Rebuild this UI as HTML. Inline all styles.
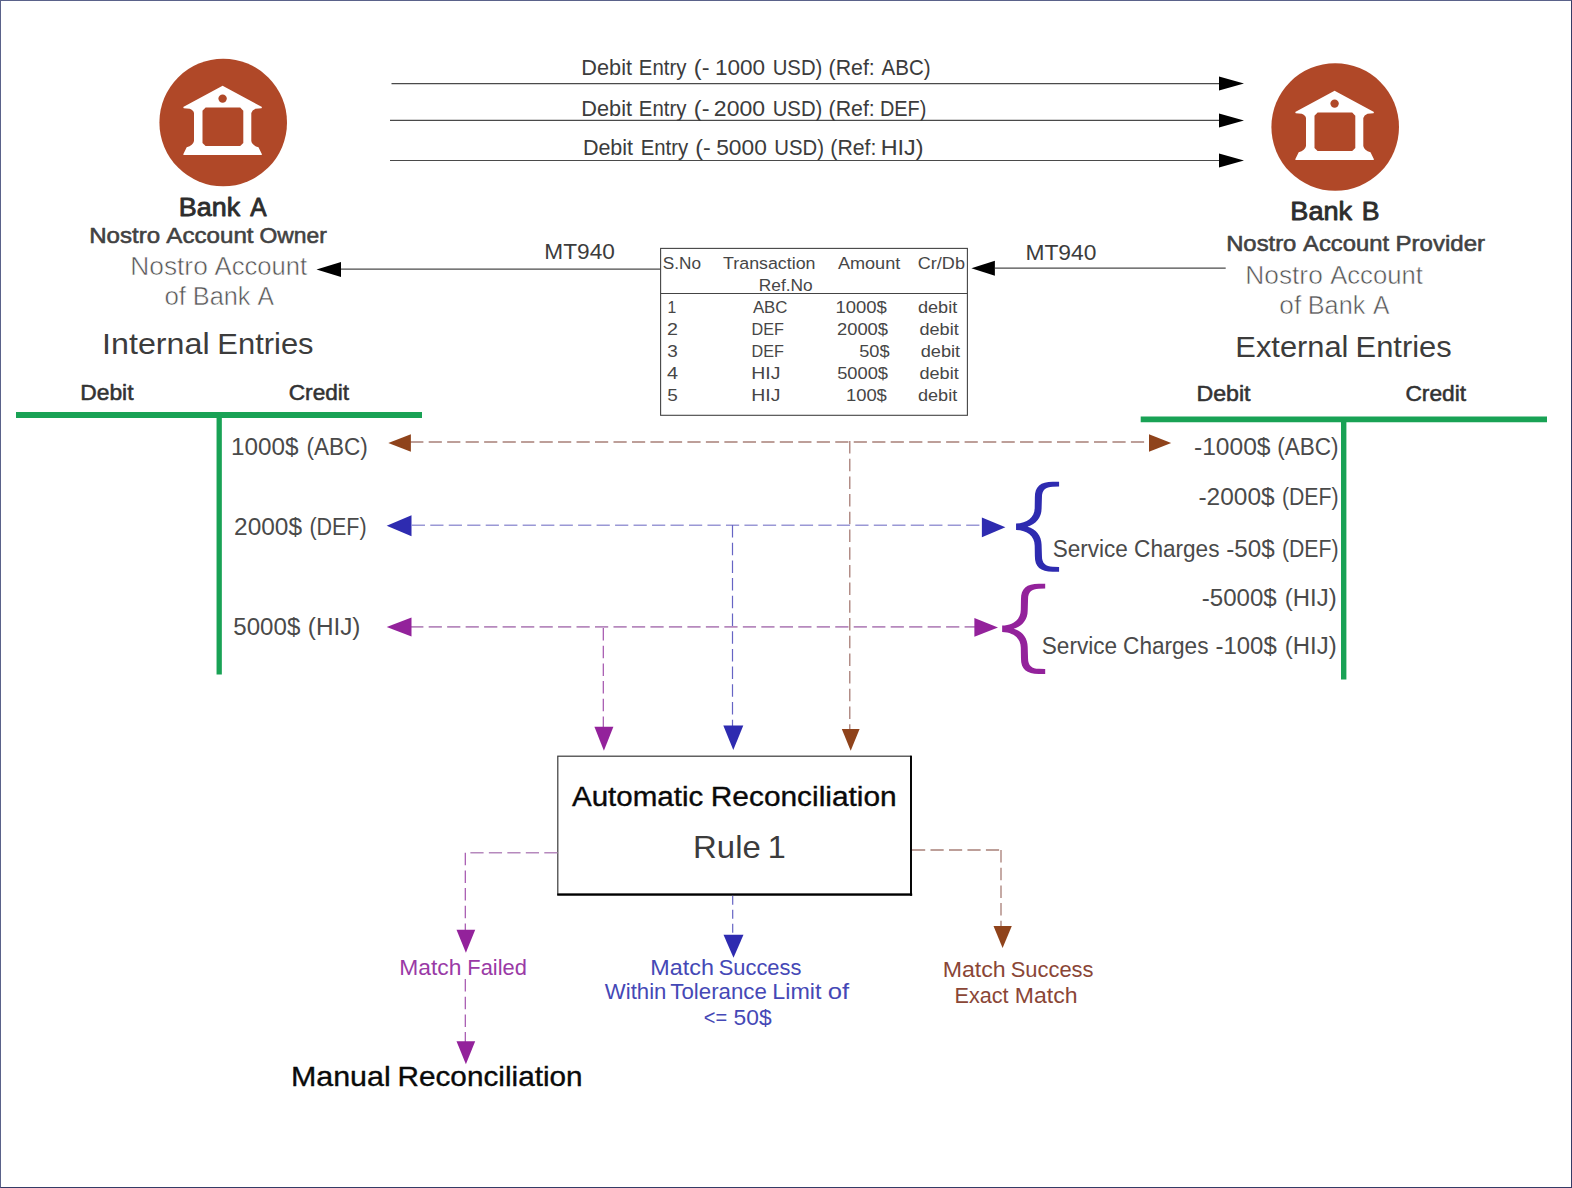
<!DOCTYPE html>
<html lang="en"><head><meta charset="utf-8"><title>Nostro Reconciliation</title>
<style>
html,body{margin:0;padding:0;background:#fff;}
body{width:1572px;height:1188px;overflow:hidden;position:relative;font-family:"Liberation Sans",sans-serif;}
svg{position:absolute;left:0;top:0;display:block;}
svg text{font-family:"Liberation Sans",sans-serif;}
.frame{position:absolute;left:0;top:0;width:1570px;height:1186px;border-top:1px solid #5a628a;border-left:1px solid #5a628a;border-right:1px solid #353c66;border-bottom:1px solid #353c66;pointer-events:none;}
</style></head><body>
<svg width="1572" height="1188" viewBox="0 0 1572 1188">
<circle cx="223.2" cy="122.5" r="63.8" fill="#b04828"/>
<g transform="translate(0.0,0.0)" fill="#fff"><path d="M222.6 85.8 L262 107 L261.5 108.3 L255.5 108.8 Q252 110 251.3 113 L251.3 141 Q252.1 145.5 258.5 147.3 L261.8 154 L261.8 155 L183.4 155 L183.4 154 L186.7 147.3 Q193.1 145.5 194 141 L194 113 Q193.3 110 189.7 108.8 L183.7 108.3 L183.2 107 Z"/><path d="M205.6 107.6 L240.2 107.6 L243.3 110.7 L243.3 142.9 L240.2 146 L205.6 146 L202.5 142.9 L202.5 110.7 Z" fill="#b04828"/><circle cx="222.6" cy="98.6" r="4.2" fill="#b04828"/></g>
<circle cx="1335.2" cy="127.0" r="63.8" fill="#b04828"/>
<g transform="translate(1112.0,5.0)" fill="#fff"><path d="M222.6 85.8 L262 107 L261.5 108.3 L255.5 108.8 Q252 110 251.3 113 L251.3 141 Q252.1 145.5 258.5 147.3 L261.8 154 L261.8 155 L183.4 155 L183.4 154 L186.7 147.3 Q193.1 145.5 194 141 L194 113 Q193.3 110 189.7 108.8 L183.7 108.3 L183.2 107 Z"/><path d="M205.6 107.6 L240.2 107.6 L243.3 110.7 L243.3 142.9 L240.2 146 L205.6 146 L202.5 142.9 L202.5 110.7 Z" fill="#b04828"/><circle cx="222.6" cy="98.6" r="4.2" fill="#b04828"/></g>
<line x1="391.5" y1="83.6" x2="1222" y2="83.6" stroke="#4a4a4a" stroke-width="1.1"/>
<line x1="390" y1="120.4" x2="1222" y2="120.4" stroke="#4a4a4a" stroke-width="1.1"/>
<line x1="390" y1="160.5" x2="1222" y2="160.5" stroke="#4a4a4a" stroke-width="1.1"/>
<polygon points="1244.0,83.6 1219.0,76.6 1219.0,90.6" fill="#000"/>
<polygon points="1244.0,120.4 1219.0,113.4 1219.0,127.4" fill="#000"/>
<polygon points="1244.0,160.5 1219.0,153.5 1219.0,167.5" fill="#000"/>
<g>
<text x="581.36" y="75.3" font-size="22.2" fill="#3c3c3c" font-weight="400" textLength="50.63" lengthAdjust="spacingAndGlyphs">Debit</text>
<text x="638.87" y="75.3" font-size="22.2" fill="#3c3c3c" font-weight="400" textLength="47.51" lengthAdjust="spacingAndGlyphs">Entry</text>
<text x="693.89" y="75.3" font-size="22.2" fill="#3c3c3c" font-weight="400" textLength="15.63" lengthAdjust="spacingAndGlyphs">(-</text>
<text x="714.91" y="75.3" font-size="22.2" fill="#3c3c3c" font-weight="400" textLength="50.19" lengthAdjust="spacingAndGlyphs">1000</text>
<text x="772.68" y="75.3" font-size="22.2" fill="#3c3c3c" font-weight="400" textLength="49.63" lengthAdjust="spacingAndGlyphs">USD)</text>
<text x="828.62" y="75.3" font-size="22.2" fill="#3c3c3c" font-weight="400" textLength="46.19" lengthAdjust="spacingAndGlyphs">(Ref:</text>
<text x="881.50" y="75.3" font-size="22.2" fill="#3c3c3c" font-weight="400" textLength="49.07" lengthAdjust="spacingAndGlyphs">ABC)</text>
</g>
<g>
<text x="581.36" y="116.3" font-size="22.2" fill="#3c3c3c" font-weight="400" textLength="50.63" lengthAdjust="spacingAndGlyphs">Debit</text>
<text x="638.87" y="116.3" font-size="22.2" fill="#3c3c3c" font-weight="400" textLength="47.51" lengthAdjust="spacingAndGlyphs">Entry</text>
<text x="693.89" y="116.3" font-size="22.2" fill="#3c3c3c" font-weight="400" textLength="15.63" lengthAdjust="spacingAndGlyphs">(-</text>
<text x="713.85" y="116.3" font-size="22.2" fill="#3c3c3c" font-weight="400" textLength="51.27" lengthAdjust="spacingAndGlyphs">2000</text>
<text x="772.68" y="116.3" font-size="22.2" fill="#3c3c3c" font-weight="400" textLength="49.63" lengthAdjust="spacingAndGlyphs">USD)</text>
<text x="828.62" y="116.3" font-size="22.2" fill="#3c3c3c" font-weight="400" textLength="46.19" lengthAdjust="spacingAndGlyphs">(Ref:</text>
<text x="879.91" y="116.3" font-size="22.2" fill="#3c3c3c" font-weight="400" textLength="46.39" lengthAdjust="spacingAndGlyphs">DEF)</text>
</g>
<g>
<text x="582.88" y="154.7" font-size="22.2" fill="#3c3c3c" font-weight="400" textLength="50.22" lengthAdjust="spacingAndGlyphs">Debit</text>
<text x="640.68" y="154.7" font-size="22.2" fill="#3c3c3c" font-weight="400" textLength="47.40" lengthAdjust="spacingAndGlyphs">Entry</text>
<text x="695.31" y="154.7" font-size="22.2" fill="#3c3c3c" font-weight="400" textLength="15.39" lengthAdjust="spacingAndGlyphs">(-</text>
<text x="716.19" y="154.7" font-size="22.2" fill="#3c3c3c" font-weight="400" textLength="50.61" lengthAdjust="spacingAndGlyphs">5000</text>
<text x="774.28" y="154.7" font-size="22.2" fill="#3c3c3c" font-weight="400" textLength="49.63" lengthAdjust="spacingAndGlyphs">USD)</text>
<text x="830.32" y="154.7" font-size="22.2" fill="#3c3c3c" font-weight="400" textLength="46.08" lengthAdjust="spacingAndGlyphs">(Ref:</text>
<text x="880.73" y="154.7" font-size="22.2" fill="#3c3c3c" font-weight="400" textLength="42.78" lengthAdjust="spacingAndGlyphs">HIJ)</text>
</g>
<g>
<text x="178.87" y="215.6" font-size="26" fill="#2d2d2d" font-weight="400" textLength="61.32" lengthAdjust="spacingAndGlyphs" stroke="#2d2d2d" stroke-width="0.85" stroke-linejoin="round">Bank</text>
<text x="250.23" y="215.6" font-size="26" fill="#2d2d2d" font-weight="400" textLength="16.30" lengthAdjust="spacingAndGlyphs" stroke="#2d2d2d" stroke-width="0.85" stroke-linejoin="round">A</text>
</g>
<g>
<text x="89.15" y="242.6" font-size="21.2" fill="#424242" font-weight="400" textLength="70.95" lengthAdjust="spacingAndGlyphs" stroke="#424242" stroke-width="0.55" stroke-linejoin="round">Nostro</text>
<text x="166.28" y="242.6" font-size="21.2" fill="#424242" font-weight="400" textLength="87.29" lengthAdjust="spacingAndGlyphs" stroke="#424242" stroke-width="0.55" stroke-linejoin="round">Account</text>
<text x="259.55" y="242.6" font-size="21.2" fill="#424242" font-weight="400" textLength="67.33" lengthAdjust="spacingAndGlyphs" stroke="#424242" stroke-width="0.55" stroke-linejoin="round">Owner</text>
</g>
<g>
<text x="130.30" y="274.5" font-size="26.5" fill="#555" font-weight="400" textLength="77.47" lengthAdjust="spacingAndGlyphs" stroke="#fff" stroke-width="0.55">Nostro</text>
<text x="214.60" y="274.5" font-size="26.5" fill="#555" font-weight="400" textLength="92.65" lengthAdjust="spacingAndGlyphs" stroke="#fff" stroke-width="0.55">Account</text>
</g>
<g>
<text x="164.46" y="305.0" font-size="26.5" fill="#555" font-weight="400" textLength="21.61" lengthAdjust="spacingAndGlyphs" stroke="#fff" stroke-width="0.55">of</text>
<text x="192.77" y="305.0" font-size="26.5" fill="#555" font-weight="400" textLength="57.75" lengthAdjust="spacingAndGlyphs" stroke="#fff" stroke-width="0.55">Bank</text>
<text x="257.60" y="305.0" font-size="26.5" fill="#555" font-weight="400" textLength="16.45" lengthAdjust="spacingAndGlyphs" stroke="#fff" stroke-width="0.55">A</text>
</g>
<g>
<text x="102.10" y="354.3" font-size="29.5" fill="#3c3c3c" font-weight="400" textLength="107.51" lengthAdjust="spacingAndGlyphs">Internal</text>
<text x="217.33" y="354.3" font-size="29.5" fill="#3c3c3c" font-weight="400" textLength="96.25" lengthAdjust="spacingAndGlyphs">Entries</text>
</g>
<text x="80.25" y="399.5" font-size="22.8" fill="#333" font-weight="400" textLength="53.28" lengthAdjust="spacingAndGlyphs" stroke="#333" stroke-width="0.55" stroke-linejoin="round">Debit</text>
<text x="288.74" y="399.5" font-size="22.8" fill="#333" font-weight="400" textLength="60.40" lengthAdjust="spacingAndGlyphs" stroke="#333" stroke-width="0.55" stroke-linejoin="round">Credit</text>
<g>
<text x="1290.35" y="220.0" font-size="26" fill="#2d2d2d" font-weight="400" textLength="61.83" lengthAdjust="spacingAndGlyphs" stroke="#2d2d2d" stroke-width="0.85" stroke-linejoin="round">Bank</text>
<text x="1361.69" y="220.0" font-size="26" fill="#2d2d2d" font-weight="400" textLength="17.77" lengthAdjust="spacingAndGlyphs" stroke="#2d2d2d" stroke-width="0.85" stroke-linejoin="round">B</text>
</g>
<g>
<text x="1226.17" y="250.5" font-size="21.2" fill="#424242" font-weight="400" textLength="70.22" lengthAdjust="spacingAndGlyphs" stroke="#424242" stroke-width="0.55" stroke-linejoin="round">Nostro</text>
<text x="1303.08" y="250.5" font-size="21.2" fill="#424242" font-weight="400" textLength="85.99" lengthAdjust="spacingAndGlyphs" stroke="#424242" stroke-width="0.55" stroke-linejoin="round">Account</text>
<text x="1395.55" y="250.5" font-size="21.2" fill="#424242" font-weight="400" textLength="89.46" lengthAdjust="spacingAndGlyphs" stroke="#424242" stroke-width="0.55" stroke-linejoin="round">Provider</text>
</g>
<g>
<text x="1245.30" y="284.0" font-size="26.5" fill="#555" font-weight="400" textLength="77.47" lengthAdjust="spacingAndGlyphs" stroke="#fff" stroke-width="0.55">Nostro</text>
<text x="1330.20" y="284.0" font-size="26.5" fill="#555" font-weight="400" textLength="92.65" lengthAdjust="spacingAndGlyphs" stroke="#fff" stroke-width="0.55">Account</text>
</g>
<g>
<text x="1279.35" y="314.3" font-size="26.5" fill="#555" font-weight="400" textLength="21.82" lengthAdjust="spacingAndGlyphs" stroke="#fff" stroke-width="0.55">of</text>
<text x="1307.78" y="314.3" font-size="26.5" fill="#555" font-weight="400" textLength="57.54" lengthAdjust="spacingAndGlyphs" stroke="#fff" stroke-width="0.55">Bank</text>
<text x="1373.00" y="314.3" font-size="26.5" fill="#555" font-weight="400" textLength="16.45" lengthAdjust="spacingAndGlyphs" stroke="#fff" stroke-width="0.55">A</text>
</g>
<g>
<text x="1235.33" y="357.3" font-size="29.5" fill="#3c3c3c" font-weight="400" textLength="113.13" lengthAdjust="spacingAndGlyphs">External</text>
<text x="1355.53" y="357.3" font-size="29.5" fill="#3c3c3c" font-weight="400" textLength="96.25" lengthAdjust="spacingAndGlyphs">Entries</text>
</g>
<text x="1196.42" y="401.1" font-size="22.8" fill="#333" font-weight="400" textLength="54.11" lengthAdjust="spacingAndGlyphs" stroke="#333" stroke-width="0.55" stroke-linejoin="round">Debit</text>
<text x="1405.44" y="401.1" font-size="22.8" fill="#333" font-weight="400" textLength="60.70" lengthAdjust="spacingAndGlyphs" stroke="#333" stroke-width="0.55" stroke-linejoin="round">Credit</text>
<line x1="16" y1="415" x2="422" y2="415" stroke="#19a255" stroke-width="5.8"/>
<line x1="219.2" y1="415" x2="219.2" y2="674.5" stroke="#19a255" stroke-width="5.3"/>
<line x1="1140.7" y1="419.3" x2="1547" y2="419.3" stroke="#19a255" stroke-width="5.8"/>
<line x1="1343.7" y1="419.3" x2="1343.7" y2="679.5" stroke="#19a255" stroke-width="5.4"/>
<g>
<text x="230.98" y="454.7" font-size="23" fill="#4a4a4a" font-weight="400" textLength="67.44" lengthAdjust="spacingAndGlyphs">1000$</text>
<text x="306.45" y="454.7" font-size="23" fill="#4a4a4a" font-weight="400" textLength="61.40" lengthAdjust="spacingAndGlyphs">(ABC)</text>
</g>
<g>
<text x="234.08" y="534.7" font-size="23" fill="#4a4a4a" font-weight="400" textLength="67.95" lengthAdjust="spacingAndGlyphs">2000$</text>
<text x="309.41" y="534.7" font-size="23" fill="#4a4a4a" font-weight="400" textLength="57.20" lengthAdjust="spacingAndGlyphs">(DEF)</text>
</g>
<g>
<text x="233.34" y="634.7" font-size="23" fill="#4a4a4a" font-weight="400" textLength="66.99" lengthAdjust="spacingAndGlyphs">5000$</text>
<text x="307.84" y="634.7" font-size="23" fill="#4a4a4a" font-weight="400" textLength="52.64" lengthAdjust="spacingAndGlyphs">(HIJ)</text>
</g>
<g>
<text x="1193.95" y="455.4" font-size="23" fill="#4a4a4a" font-weight="400" textLength="76.59" lengthAdjust="spacingAndGlyphs">-1000$</text>
<text x="1277.15" y="455.4" font-size="23" fill="#4a4a4a" font-weight="400" textLength="61.40" lengthAdjust="spacingAndGlyphs">(ABC)</text>
</g>
<g>
<text x="1198.46" y="504.6" font-size="23" fill="#4a4a4a" font-weight="400" textLength="76.18" lengthAdjust="spacingAndGlyphs">-2000$</text>
<text x="1281.93" y="504.6" font-size="23" fill="#4a4a4a" font-weight="400" textLength="56.57" lengthAdjust="spacingAndGlyphs">(DEF)</text>
</g>
<g>
<text x="1052.68" y="557.0" font-size="23" fill="#4a4a4a" font-weight="400" textLength="75.22" lengthAdjust="spacingAndGlyphs">Service</text>
<text x="1134.07" y="557.0" font-size="23" fill="#4a4a4a" font-weight="400" textLength="85.42" lengthAdjust="spacingAndGlyphs">Charges</text>
<text x="1226.27" y="557.0" font-size="23" fill="#4a4a4a" font-weight="400" textLength="48.37" lengthAdjust="spacingAndGlyphs">-50$</text>
<text x="1281.93" y="557.0" font-size="23" fill="#4a4a4a" font-weight="400" textLength="56.57" lengthAdjust="spacingAndGlyphs">(DEF)</text>
</g>
<g>
<text x="1201.78" y="605.9" font-size="23" fill="#4a4a4a" font-weight="400" textLength="74.96" lengthAdjust="spacingAndGlyphs">-5000$</text>
<text x="1284.87" y="605.9" font-size="23" fill="#4a4a4a" font-weight="400" textLength="51.79" lengthAdjust="spacingAndGlyphs">(HIJ)</text>
</g>
<g>
<text x="1041.78" y="653.5" font-size="23" fill="#4a4a4a" font-weight="400" textLength="75.43" lengthAdjust="spacingAndGlyphs">Service</text>
<text x="1123.07" y="653.5" font-size="23" fill="#4a4a4a" font-weight="400" textLength="85.42" lengthAdjust="spacingAndGlyphs">Charges</text>
<text x="1215.58" y="653.5" font-size="23" fill="#4a4a4a" font-weight="400" textLength="61.12" lengthAdjust="spacingAndGlyphs">-100$</text>
<text x="1284.87" y="653.5" font-size="23" fill="#4a4a4a" font-weight="400" textLength="51.79" lengthAdjust="spacingAndGlyphs">(HIJ)</text>
</g>
<line x1="340" y1="269.1" x2="660.7" y2="269.1" stroke="#4a4a4a" stroke-width="1.1"/>
<polygon points="316.5,269.5 341.0,262.0 341.0,277.0" fill="#000"/>
<line x1="995" y1="268.1" x2="1225.7" y2="268.1" stroke="#4a4a4a" stroke-width="1.1"/>
<polygon points="971.4,268.2 994.9,260.7 994.9,275.7" fill="#000"/>
<text x="544.39" y="259.2" font-size="22" fill="#3c3c3c" font-weight="400" textLength="70.52" lengthAdjust="spacingAndGlyphs">MT940</text>
<text x="1025.48" y="260.4" font-size="22" fill="#3c3c3c" font-weight="400" textLength="70.93" lengthAdjust="spacingAndGlyphs">MT940</text>
<rect x="660.6" y="248.4" width="306.8" height="166.9" fill="#fff" stroke="#444" stroke-width="1.1"/>
<line x1="660.6" y1="293.5" x2="967.4" y2="293.5" stroke="#444" stroke-width="1.1"/>
<text x="662.83" y="269.0" font-size="17.1" fill="#464646" font-weight="400" textLength="38.28" lengthAdjust="spacingAndGlyphs">S.No</text>
<text x="723.14" y="269.0" font-size="17.1" fill="#464646" font-weight="400" textLength="92.37" lengthAdjust="spacingAndGlyphs">Transaction</text>
<text x="837.90" y="269.0" font-size="17.1" fill="#464646" font-weight="400" textLength="62.42" lengthAdjust="spacingAndGlyphs">Amount</text>
<text x="917.80" y="269.0" font-size="17.1" fill="#464646" font-weight="400" textLength="47.15" lengthAdjust="spacingAndGlyphs">Cr/Db</text>
<text x="758.82" y="290.9" font-size="17.1" fill="#464646" font-weight="400" textLength="53.88" lengthAdjust="spacingAndGlyphs">Ref.No</text>
<text x="667.62" y="313.0" font-size="16.6" fill="#464646" font-weight="400" textLength="8.74" lengthAdjust="spacingAndGlyphs">1</text>
<text x="752.90" y="313.0" font-size="16.6" fill="#464646" font-weight="400" textLength="34.61" lengthAdjust="spacingAndGlyphs">ABC</text>
<text x="835.41" y="313.0" font-size="16.6" fill="#464646" font-weight="400" textLength="51.43" lengthAdjust="spacingAndGlyphs">1000$</text>
<text x="917.98" y="313.0" font-size="16.6" fill="#464646" font-weight="400" textLength="39.23" lengthAdjust="spacingAndGlyphs">debit</text>
<text x="667.02" y="335.1" font-size="16.6" fill="#464646" font-weight="400" textLength="10.94" lengthAdjust="spacingAndGlyphs">2</text>
<text x="751.61" y="335.1" font-size="16.6" fill="#464646" font-weight="400" textLength="32.30" lengthAdjust="spacingAndGlyphs">DEF</text>
<text x="836.98" y="335.1" font-size="16.6" fill="#464646" font-weight="400" textLength="51.06" lengthAdjust="spacingAndGlyphs">2000$</text>
<text x="919.48" y="335.1" font-size="16.6" fill="#464646" font-weight="400" textLength="39.23" lengthAdjust="spacingAndGlyphs">debit</text>
<text x="667.29" y="357.0" font-size="16.6" fill="#464646" font-weight="400" textLength="10.54" lengthAdjust="spacingAndGlyphs">3</text>
<text x="751.61" y="357.0" font-size="16.6" fill="#464646" font-weight="400" textLength="32.30" lengthAdjust="spacingAndGlyphs">DEF</text>
<text x="859.17" y="357.0" font-size="16.6" fill="#464646" font-weight="400" textLength="30.37" lengthAdjust="spacingAndGlyphs">50$</text>
<text x="920.67" y="357.0" font-size="16.6" fill="#464646" font-weight="400" textLength="39.44" lengthAdjust="spacingAndGlyphs">debit</text>
<text x="667.05" y="379.0" font-size="16.6" fill="#464646" font-weight="400" textLength="11.01" lengthAdjust="spacingAndGlyphs">4</text>
<text x="751.34" y="379.0" font-size="16.6" fill="#464646" font-weight="400" textLength="29.17" lengthAdjust="spacingAndGlyphs">HIJ</text>
<text x="837.17" y="379.0" font-size="16.6" fill="#464646" font-weight="400" textLength="50.88" lengthAdjust="spacingAndGlyphs">5000$</text>
<text x="919.48" y="379.0" font-size="16.6" fill="#464646" font-weight="400" textLength="39.23" lengthAdjust="spacingAndGlyphs">debit</text>
<text x="667.24" y="401.1" font-size="16.6" fill="#464646" font-weight="400" textLength="10.54" lengthAdjust="spacingAndGlyphs">5</text>
<text x="751.34" y="401.1" font-size="16.6" fill="#464646" font-weight="400" textLength="29.17" lengthAdjust="spacingAndGlyphs">HIJ</text>
<text x="845.92" y="401.1" font-size="16.6" fill="#464646" font-weight="400" textLength="40.95" lengthAdjust="spacingAndGlyphs">100$</text>
<text x="917.98" y="401.1" font-size="16.6" fill="#464646" font-weight="400" textLength="39.23" lengthAdjust="spacingAndGlyphs">debit</text>
<line x1="410.2" y1="442" x2="1149" y2="442" stroke="#a88078" stroke-width="1.6" stroke-dasharray="13.2 5.28"/>
<polygon points="388.3,443.0 410.9,434.2 410.9,451.8" fill="#8f431b"/>
<polygon points="1171.2,443.0 1149.0,434.2 1149.0,451.8" fill="#8f431b"/>
<line x1="849.8" y1="441" x2="849.8" y2="730" stroke="#a0726a" stroke-width="1.2" stroke-dasharray="12.5 5.2"/>
<polygon points="850.7,750.8 841.8,729.0 859.6,729.0" fill="#8f431b"/>
<line x1="411.8" y1="525.3" x2="982" y2="525.3" stroke="#9a98d5" stroke-width="1.6" stroke-dasharray="13.2 5.28"/>
<polygon points="386.7,525.7 411.5,515.2 411.5,536.2" fill="#2e2bb0"/>
<polygon points="1005.4,527.3 981.9,517.4 981.9,537.2" fill="#2e2bb0"/>
<line x1="732.5" y1="525" x2="732.5" y2="726" stroke="#6664c4" stroke-width="1.2" stroke-dasharray="12.5 5.2"/>
<polygon points="733.3,749.9 723.3,725.4 743.3,725.4" fill="#2e2bb0"/>
<line x1="410.2" y1="626.9" x2="975" y2="626.9" stroke="#b689bd" stroke-width="1.6" stroke-dasharray="13.2 5.28"/>
<polygon points="386.7,627.1 411.5,617.6 411.5,636.6" fill="#93229b"/>
<polygon points="998.0,627.4 974.4,618.1 974.4,636.7" fill="#93229b"/>
<line x1="603.3" y1="628" x2="603.3" y2="727" stroke="#a252ac" stroke-width="1.2" stroke-dasharray="12.5 5.2"/>
<polygon points="603.9,750.8 594.4,726.8 613.4,726.8" fill="#93229b"/>
<path d="M1059.09 481.63 L1052.73 481.63 C1040.35 481.63 1034.87 486.49 1034.87 497.10 L1034.70 507.70 C1034.70 517.43 1027.10 523.26 1016.05 523.52 L1016.05 529.89 C1027.10 530.15 1034.70 535.99 1034.70 545.71 L1034.87 556.32 C1034.87 566.92 1040.35 571.78 1052.73 571.78 L1059.09 571.78 L1059.09 566.92 L1052.73 566.74 C1045.83 566.74 1041.95 563.39 1041.95 556.32 L1041.59 544.82 C1041.59 535.99 1035.94 528.92 1027.54 526.71 C1035.94 524.50 1041.59 517.43 1041.59 508.59 L1041.95 497.10 C1041.95 490.03 1045.83 486.67 1052.73 486.67 L1059.09 486.49 Z" fill="#2e2bb0"/>
<path d="M1045.19 583.73 L1038.83 583.73 C1026.45 583.73 1020.97 588.59 1020.97 599.20 L1020.80 609.80 C1020.80 619.53 1013.20 625.36 1002.15 625.62 L1002.15 631.99 C1013.20 632.25 1020.80 638.09 1020.80 647.81 L1020.97 658.42 C1020.97 669.02 1026.45 673.88 1038.83 673.88 L1045.19 673.88 L1045.19 669.02 L1038.83 668.84 C1031.93 668.84 1028.05 665.49 1028.05 658.42 L1027.69 646.92 C1027.69 638.09 1022.04 631.02 1013.64 628.81 C1022.04 626.60 1027.69 619.53 1027.69 610.69 L1028.05 599.20 C1028.05 592.13 1031.93 588.77 1038.83 588.77 L1045.19 588.59 Z" fill="#93229b"/>
<rect x="557.8" y="756.2" width="353.2" height="138" fill="#fff" stroke="#3a3a3a" stroke-width="1.2"/>
<line x1="557.2" y1="894.6" x2="912.2" y2="894.6" stroke="#000" stroke-width="2.4"/>
<line x1="911.0" y1="755.8" x2="911.0" y2="895.8" stroke="#000" stroke-width="1.9"/>
<g>
<text x="571.97" y="806.3" font-size="27" fill="#0a0a0a" font-weight="400" textLength="131.36" lengthAdjust="spacingAndGlyphs" stroke="#0a0a0a" stroke-width="0.35" stroke-linejoin="round">Automatic</text>
<text x="710.79" y="806.3" font-size="27" fill="#0a0a0a" font-weight="400" textLength="185.93" lengthAdjust="spacingAndGlyphs" stroke="#0a0a0a" stroke-width="0.35" stroke-linejoin="round">Reconciliation</text>
</g>
<g>
<text x="693.07" y="858.3" font-size="32.2" fill="#3c3c3c" font-weight="400" textLength="67.69" lengthAdjust="spacingAndGlyphs">Rule</text>
<text x="767.87" y="858.3" font-size="32.2" fill="#3c3c3c" font-weight="400" textLength="18.00" lengthAdjust="spacingAndGlyphs">1</text>
</g>
<path d="M557.5 852.7 L465.3 852.7" stroke="#b689bd" stroke-width="1.6" fill="none" stroke-dasharray="13.2 5.28"/>
<line x1="465.3" y1="852.7" x2="465.3" y2="931" stroke="#a252ac" stroke-width="1.2" stroke-dasharray="12.5 5.2"/>
<polygon points="465.9,952.8 456.5,929.8 475.2,929.8" fill="#93229b"/>
<g>
<text x="399.27" y="974.8" font-size="21.5" fill="#9a3aa6" font-weight="400" textLength="62.17" lengthAdjust="spacingAndGlyphs">Match</text>
<text x="467.35" y="974.8" font-size="21.5" fill="#9a3aa6" font-weight="400" textLength="59.54" lengthAdjust="spacingAndGlyphs">Failed</text>
</g>
<line x1="465.3" y1="979" x2="465.3" y2="1042" stroke="#a252ac" stroke-width="1.2" stroke-dasharray="12.5 5.2"/>
<polygon points="465.9,1064.2 456.5,1041.2 475.2,1041.2" fill="#93229b"/>
<g>
<text x="290.94" y="1086.0" font-size="27.6" fill="#0a0a0a" font-weight="400" textLength="99.76" lengthAdjust="spacingAndGlyphs" stroke="#0a0a0a" stroke-width="0.35" stroke-linejoin="round">Manual</text>
<text x="397.50" y="1086.0" font-size="27.6" fill="#0a0a0a" font-weight="400" textLength="185.11" lengthAdjust="spacingAndGlyphs" stroke="#0a0a0a" stroke-width="0.35" stroke-linejoin="round">Reconciliation</text>
</g>
<line x1="732.7" y1="895.8" x2="732.7" y2="936" stroke="#6664c4" stroke-width="1.2" stroke-dasharray="9 5"/>
<polygon points="733.5,957.7 723.5,934.7 743.5,934.7" fill="#2e2bb0"/>
<g>
<text x="650.33" y="974.8" font-size="21.5" fill="#4548b6" font-weight="400" textLength="63.54" lengthAdjust="spacingAndGlyphs">Match</text>
<text x="718.71" y="974.8" font-size="21.5" fill="#4548b6" font-weight="400" textLength="82.74" lengthAdjust="spacingAndGlyphs">Success</text>
</g>
<g>
<text x="604.84" y="999.0" font-size="21.5" fill="#4548b6" font-weight="400" textLength="61.56" lengthAdjust="spacingAndGlyphs">Within</text>
<text x="670.35" y="999.0" font-size="21.5" fill="#4548b6" font-weight="400" textLength="96.52" lengthAdjust="spacingAndGlyphs">Tolerance</text>
<text x="772.34" y="999.0" font-size="21.5" fill="#4548b6" font-weight="400" textLength="49.11" lengthAdjust="spacingAndGlyphs">Limit</text>
<text x="827.67" y="999.0" font-size="21.5" fill="#4548b6" font-weight="400" textLength="21.40" lengthAdjust="spacingAndGlyphs">of</text>
</g>
<g>
<text x="703.75" y="1024.6" font-size="21.5" fill="#4548b6" font-weight="400" textLength="23.41" lengthAdjust="spacingAndGlyphs">&lt;=</text>
<text x="733.59" y="1024.6" font-size="21.5" fill="#4548b6" font-weight="400" textLength="38.02" lengthAdjust="spacingAndGlyphs">50$</text>
</g>
<path d="M912 850 L1001 850" stroke="#a88078" stroke-width="1.6" fill="none" stroke-dasharray="13.2 5.28"/>
<line x1="1001" y1="850" x2="1001" y2="927" stroke="#a0726a" stroke-width="1.2" stroke-dasharray="12.5 5.2"/>
<polygon points="1002.6,948.1 993.5,925.9 1011.8,925.9" fill="#8f431b"/>
<g>
<text x="942.65" y="976.5" font-size="21.5" fill="#8a4636" font-weight="400" textLength="63.01" lengthAdjust="spacingAndGlyphs">Match</text>
<text x="1010.71" y="976.5" font-size="21.5" fill="#8a4636" font-weight="400" textLength="82.84" lengthAdjust="spacingAndGlyphs">Success</text>
</g>
<g>
<text x="954.47" y="1003.0" font-size="21.5" fill="#8a4636" font-weight="400" textLength="54.16" lengthAdjust="spacingAndGlyphs">Exact</text>
<text x="1014.86" y="1003.0" font-size="21.5" fill="#8a4636" font-weight="400" textLength="62.70" lengthAdjust="spacingAndGlyphs">Match</text>
</g>
</svg>
<div class="frame"></div>
</body></html>
